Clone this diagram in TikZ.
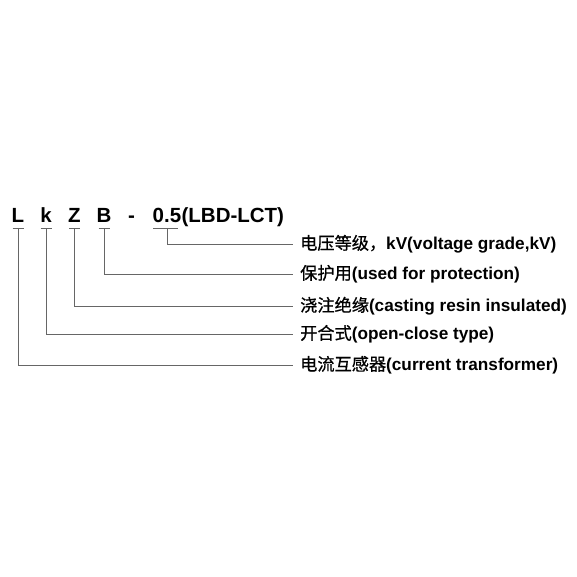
\documentclass[tikz,border=0pt]{standalone}
\usepackage{fontspec}
\setmainfont{Liberation Sans}
\newfontfamily\cjk[FakeBold=0.8]{Noto Sans CJK SC}
\begin{document}
\begin{tikzpicture}[x=1pt,y=-1pt,
  code/.style={anchor=base,inner sep=0pt,font=\fontsize{20.5}{24}\selectfont\bfseries},
  meaning/.style={anchor=west,inner xsep=7pt,inner ysep=0pt,font=\fontsize{17.2}{20}\selectfont\bfseries},
  lead/.style={draw=black!60,line width=0.8pt}]
\useasboundingbox (0,0) rectangle (577,577);
\node(L) at (18,222)[code]          {L};
\node(k) at (46,222)[code]          {k};
\node(Z) at (74.5,222)[code]        {Z};
\node(B) at (104,222)[code]         {B};
\node(dash) at (131.5,222)[code]    {-};
\node(volt) at (152.5,222)[code,anchor=base west] {0.5};
\node(model) at (volt.base east)[code,anchor=base west] {(LBD-LCT)};

\node(t1) at (293,244)[meaning] {{\cjk\mdseries 电压等级，}kV(voltage grade,kV)};
\node(t2) at (293,274)[meaning] {{\cjk\mdseries 保护用}(used for protection)};
\node(t3) at (293,306)[meaning] {{\cjk\mdseries 浇注绝缘}(casting resin insulated)};
\node(t4) at (293,334)[meaning] {{\cjk\mdseries 开合式}(open-close type)};
\node(t5) at (293,365)[meaning] {{\cjk\mdseries 电流互感器}(current transformer)};

% underlines
\foreach \c in {L,k,Z,B}
  \draw[lead] ([xshift=-5.5pt,yshift=-6.5pt]\c.base) -- ([xshift=5.5pt,yshift=-6.5pt]\c.base);
\draw[lead] ([xshift=0.5pt,yshift=-6.5pt]volt.base west) -- ([xshift=-3pt,yshift=-6.5pt]volt.base east);

% leaders
\draw[lead] ([yshift=-6.5pt]volt.base) |- (t1.west);
\draw[lead] ([yshift=-6.5pt]B.base) |- (t2.west);
\draw[lead] ([yshift=-6.5pt]Z.base) |- (t3.west);
\draw[lead] ([yshift=-6.5pt]k.base) |- (t4.west);
\draw[lead] ([yshift=-6.5pt]L.base) |- (t5.west);
\end{tikzpicture}
\end{document}
